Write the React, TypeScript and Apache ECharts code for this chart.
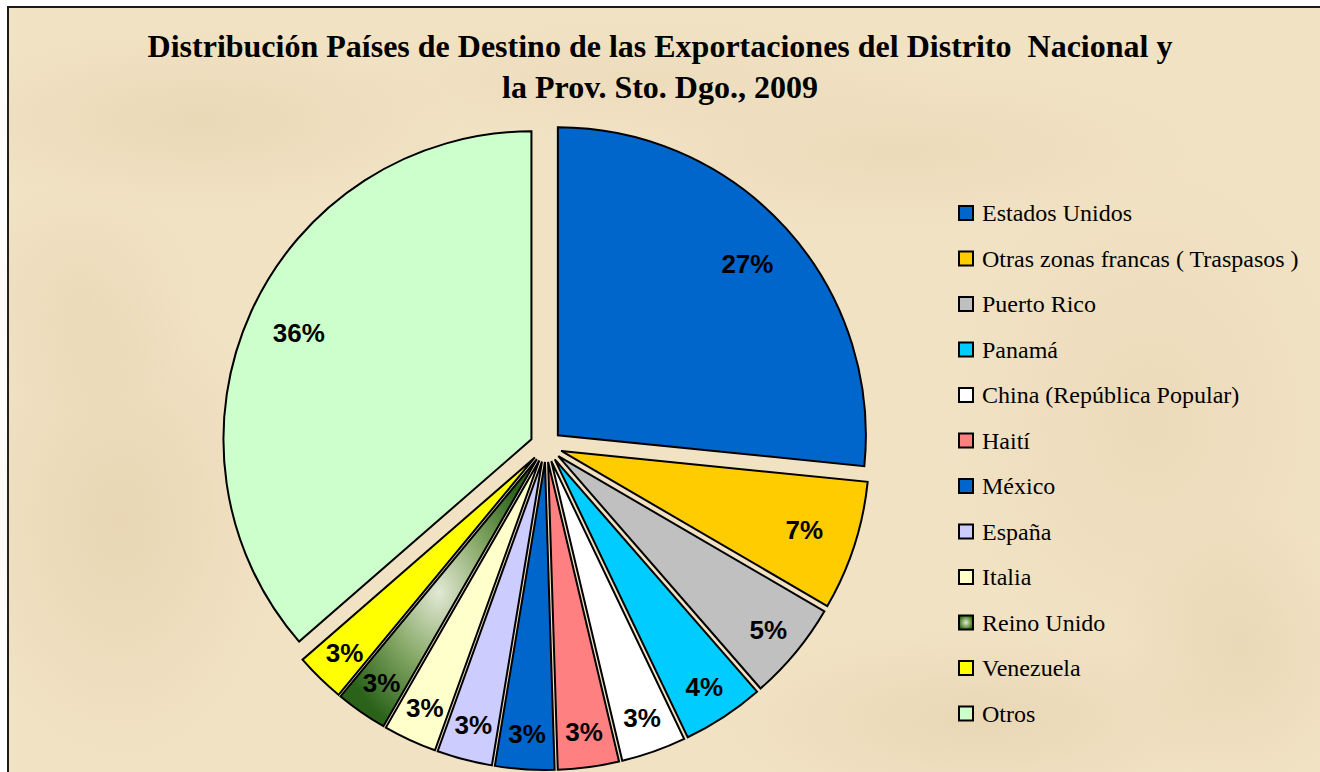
import React, { useEffect, useRef } from "react";
import * as echarts from "echarts";

const categories = [
  "Estados Unidos",
  "Otras zonas francas ( Traspasos )",
  "Puerto Rico",
  "Panamá",
  "China (República Popular)",
  "Haití",
  "México",
  "España",
  "Italia",
  "Reino Unido",
  "Venezuela",
  "Otros",
];

const shares = [26.6, 6.8, 5.2, 4.3, 3.4, 3.2, 3.1, 2.9, 2.8, 2.7, 2.6, 36.4];

const reinoUnidoGradient = {
  type: "radial",
  x: 0.5,
  y: 0.5,
  r: 0.55,
  colorStops: [
    { offset: 0, color: "#E2E8D4" },
    { offset: 0.5, color: "#86A866" },
    { offset: 1, color: "#2A621A" },
  ],
};

const sliceColors: any[] = [
  "#0066CC",
  "#FFCC00",
  "#C0C0C0",
  "#00CCFF",
  "#FFFFFF",
  "#FF8080",
  "#0066CC",
  "#CCCCFF",
  "#FFFFCC",
  reinoUnidoGradient,
  "#FFFF00",
  "#CCFFCC",
];

const title = "Distribución Países de Destino de las Exportaciones del Distrito  Nacional y\nla Prov. Sto. Dgo., 2009";

export default function App() {
  const ref = useRef<HTMLDivElement>(null);

  useEffect(() => {
    if (!ref.current) return;
    const chart = echarts.init(ref.current, undefined, { renderer: "svg" });

    const blob = (cx: number, cy: number, rx: number, ry: number, a: number) => ({
      type: "ellipse",
      silent: true,
      z: -9,
      shape: { cx, cy, rx, ry },
      style: {
        fill: {
          type: "radial",
          x: 0.5,
          y: 0.5,
          r: 0.5,
          colorStops: [
            { offset: 0, color: `rgba(205,178,130,${a})` },
            { offset: 1, color: "rgba(205,178,130,0)" },
          ],
        },
      },
    });

    const visibleData = categories.map((name, i) => ({
      name,
      value: shares[i],
      selected: true,
      itemStyle: { color: sliceColors[i] },
    }));
    const bigLabelData = categories.map((name, i) => ({
      name,
      value: shares[i],
      selected: true,
      label: { show: shares[i] >= 6 },
    }));
    const smallLabelData = categories.map((name, i) => ({
      name,
      value: shares[i],
      selected: true,
      label: { show: shares[i] < 6 },
    }));

    const R = 308;
    const center = [546, 446];

    const labelStyle = {
      show: true,
      position: "inside",
      formatter: (p: any) => Math.round(p.percent) + "%",
      fontFamily: "Liberation Sans",
      fontWeight: "bold",
      fontSize: 26,
      color: "#000",
    };

    const labelSeries = (inner: number, data: any[]) => ({
      type: "pie",
      center,
      radius: [R * inner, R],
      startAngle: 90,
      clockwise: true,
      silent: true,
      selectedMode: "multiple",
      selectedOffset: 16,
      avoidLabelOverlap: false,
      emphasis: { disabled: true },
      itemStyle: { color: "rgba(0,0,0,0)", borderWidth: 0 },
      labelLine: { show: false },
      label: labelStyle,
      data,
      z: 3,
    });

    chart.setOption({
      animation: false,
      backgroundColor: "#ffffff",
      title: {
        text: title,
        left: "center",
        top: 20,
        textStyle: {
          fontFamily: "Liberation Serif",
          fontWeight: "bold",
          fontSize: 32,
          lineHeight: 41,
          color: "#000",
        },
      },
      legend: {
        orient: "vertical",
        left: 953,
        top: 196,
        icon: "rect",
        itemWidth: 14,
        itemHeight: 14,
        itemGap: 21.5,
        selectedMode: false,
        data: categories,
        itemStyle: { borderColor: "#000", borderWidth: 2 },
        textStyle: {
          fontFamily: "Liberation Serif",
          fontSize: 24,
          lineHeight: 24,
          color: "#000",
          padding: [0, 0, 0, 4],
        },
      },
      graphic: [
        {
          type: "rect",
          silent: true,
          z: -10,
          shape: { x: 8, y: 7, width: 1330, height: 800 },
          style: { fill: "#F1E2C4", stroke: "#1a1a1a", lineWidth: 2 },
        },
        blob(200, 120, 260, 90, 0.2),
        blob(900, 150, 300, 80, 0.15),
        blob(120, 520, 160, 240, 0.25),
        blob(1150, 420, 200, 260, 0.15),
        blob(980, 720, 260, 90, 0.22),
        blob(640, 80, 300, 60, 0.12),
        blob(80, 300, 120, 120, 0.15),
        blob(1240, 650, 120, 140, 0.2),
      ],
      series: [
        {
          type: "pie",
          name: "visible",
          center,
          radius: [0, R],
          startAngle: 90,
          clockwise: true,
          selectedMode: "multiple",
          selectedOffset: 16,
          avoidLabelOverlap: false,
          label: { show: false },
          labelLine: { show: false },
          emphasis: { disabled: true },
          itemStyle: { borderColor: "#000", borderWidth: 2, borderJoin: "miter" },
          data: visibleData,
          z: 2,
        },
        labelSeries(0.64, bigLabelData),
        labelSeries(0.75, smallLabelData),
      ],
    });

    return () => chart.dispose();
  }, []);

  return (
    <div
      ref={ref}
      style={{ position: "fixed", left: 0, top: 0, width: 1320, height: 772 }}
    />
  );
}
